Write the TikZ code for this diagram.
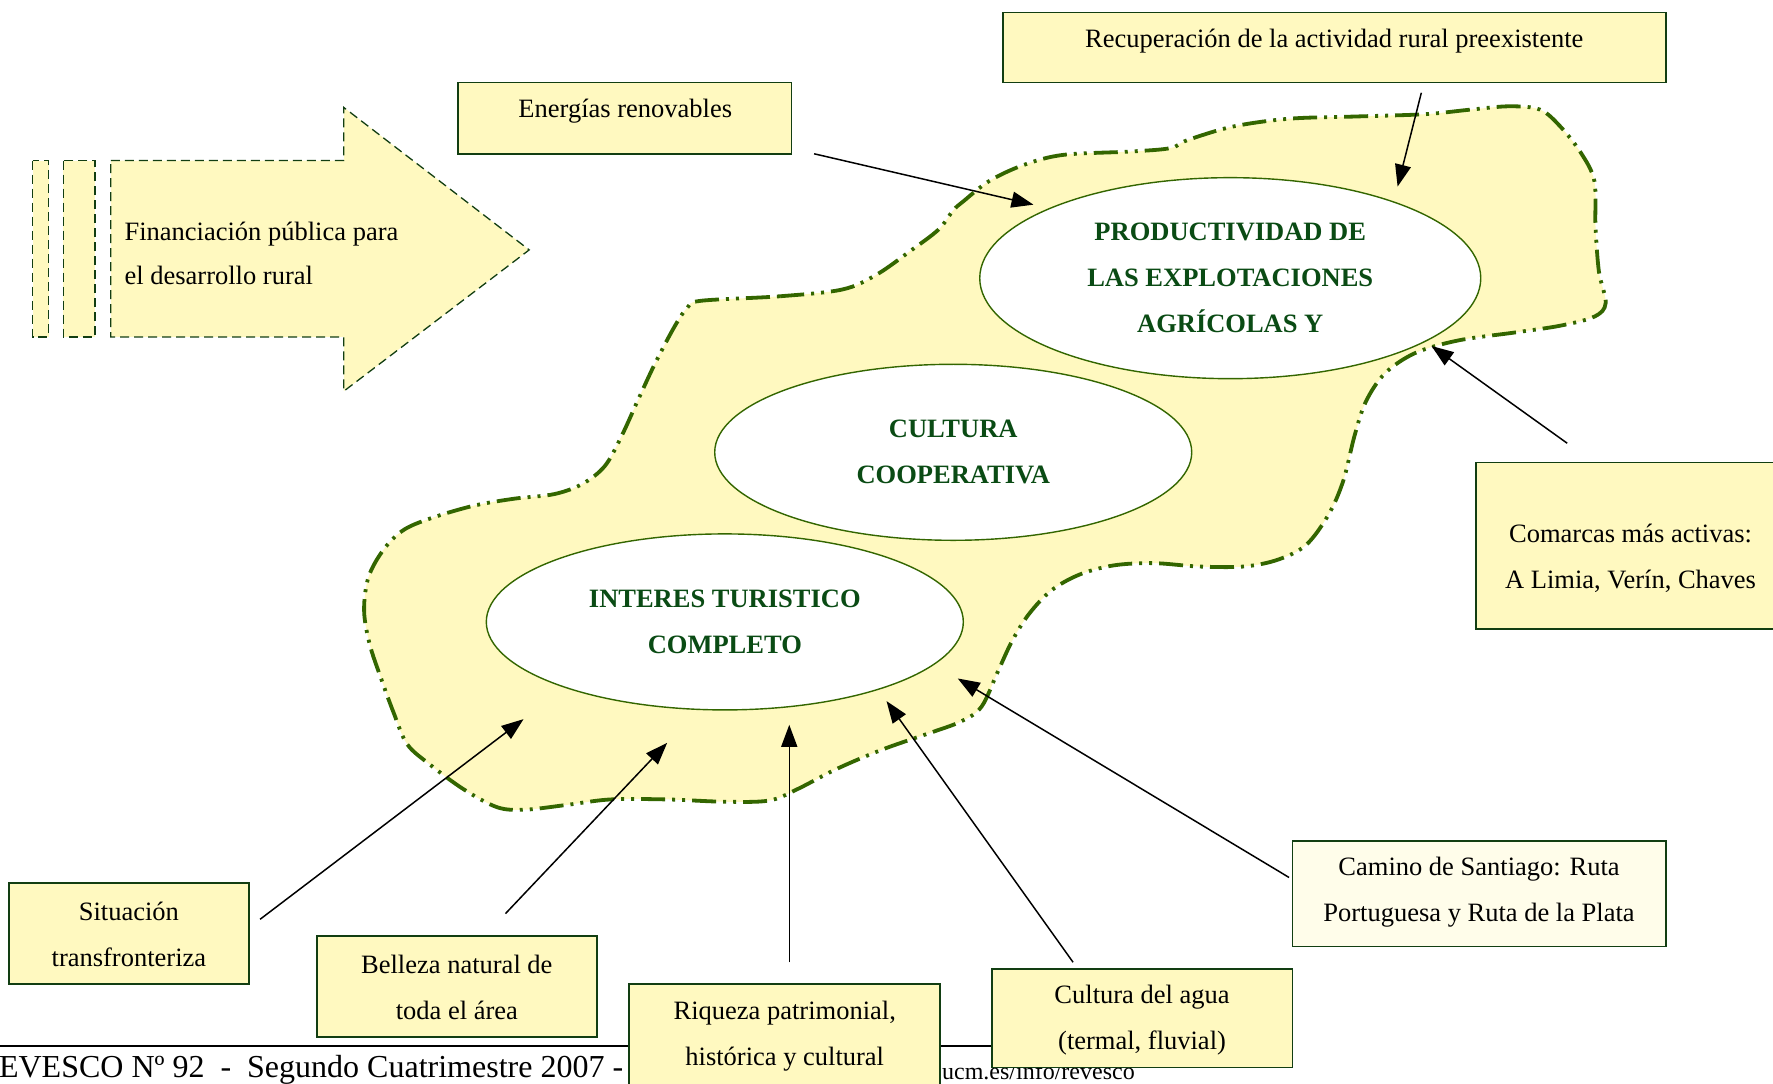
\documentclass[tikz,border=0pt]{standalone}
\usepackage{fontspec}
\setmainfont{Liberation Serif}
\usetikzlibrary{arrows.meta,shapes.geometric,fit}
\definecolor{fillY}{RGB}{255,249,192}
\definecolor{fillL}{RGB}{255,253,234}
\definecolor{boxG}{RGB}{18,62,18}
\definecolor{blobG}{RGB}{51,102,0}
\definecolor{txtG}{RGB}{10,75,20}
\begin{document}
\begin{tikzpicture}[x=1.1307pt,y=-1.1307pt,
  font=\fontsize{26.5}{46}\selectfont,
  infobox/.style={draw=boxG, line width=1.8pt, fill=fillY, inner sep=0pt},
  infotext/.style={align=center, inner sep=0pt},
  ell/.style={ellipse, draw=blobG, line width=1.4pt, fill=white, inner sep=0pt,
              align=center, text=txtG, font=\fontsize{26.5}{46}\selectfont\bfseries},
  blob/.style={draw=blobG, fill=fillY, line width=3.8pt,
               dash pattern=on 24pt off 7pt on 3pt off 7pt on 3pt off 7pt},
  shapedash/.style={draw=boxG, fill=fillY, line width=1.3pt, dash pattern=on 9pt off 5pt},
  conn/.style={draw=black, line width=1.5pt, -{Triangle[length=22pt,width=16pt]}}]
\useasboundingbox (0,0) rectangle (1568,958);

% footer
\draw[line width=2.5pt] (0,925) -- (1000,925);
\node[anchor=base west, inner sep=0pt, font=\fontsize{32}{36}\selectfont] (foot) at (-1,953)
  {EVESCO Nº 92~~-~~Segundo Cuatrimestre 2007 -};
\node[anchor=base west, inner sep=0pt, font=\fontsize{24}{28}\selectfont] (url) at (833,955)
  {ucm.es/info/revesco};

% big arrow
\draw[shapedash] (29,142) rectangle (43,298);
\draw[shapedash] (56,142) rectangle (84,298);
\draw[shapedash] (98,142) -- (304,142) -- (304,95) -- (468,221) -- (304,346) -- (304,298) -- (98,298) -- cycle;
\node[anchor=west, align=left, inner sep=0pt, font=\fontsize{26.5}{44}\selectfont] (fin) at (110,224)
  {Financiación pública para\\el desarrollo rural};

% blob
\draw[blob] plot[smooth cycle, tension=0.55] coordinates {
(620,266) (690,262) (745,256) (775,243) (805,222) (830,203) (843,186) (852,178) (875,160)
(905,146) (940,137) (1000,134) (1035,131) (1050,124) (1090,112) (1140,105) (1200,103)
(1260,101) (1300,97) (1335,94) (1362,97) (1380,112) (1398,135) (1410,160) (1411,200)
(1414,240) (1420,268) (1410,280) (1380,288) (1340,294) (1290,301) (1252,312) (1225,330)
(1208,355) (1198,385) (1188,425) (1175,455) (1155,482) (1130,495) (1100,501) (1060,501)
(1020,498) (985,500) (955,508) (930,522) (910,543) (895,567) (882,595) (868,625) (850,638)
(820,649) (780,663) (740,680) (705,698) (680,708) (640,709) (590,707) (540,707) (500,712)
(465,716) (440,714) (410,698) (380,676) (360,658) (348,630) (337,600) (327,570) (322,540)
(326,510) (340,485) (358,468) (385,457) (420,447) (455,441) (490,437) (515,428) (535,412)
(550,385) (565,352) (580,320) (597,288) (608,272)};

% ellipses
\node[ell, minimum width=501pt, minimum height=201pt] (prod) at (1088,246)
  {PRODUCTIVIDAD DE\\LAS EXPLOTACIONES\\AGRÍCOLAS Y};
\node[ell, minimum width=477pt, minimum height=176pt] (coop) at (843,400)
  {CULTURA\\COOPERATIVA};
\node[ell, minimum width=477pt, minimum height=176pt] (inter) at (641,550)
  {INTERES TURISTICO\\COMPLETO};

% boxes
\node[infobox, fit={(887,11) (1473,73)}] (recup) {};
\node[infotext] (recupT) at (1180,36) {Recuperación de la actividad rural preexistente};
\node[infobox, fit={(405,73) (700,136)}] (ener) {};
\node[infotext] (enerT) at (553,98) {Energías renovables};
\node[infobox, fit={(1305,409) (1580,556)}] (comar) {};
\node[infotext] (comarT) at (1442,494) {Comarcas más activas:\\A Limia, Verín, Chaves};
\node[infobox, fill=fillL, fit={(1143,744) (1473,837)}] (camino) {};
\node[infotext] (caminoT) at (1308,789) {Camino de Santiago: Ruta\\Portuguesa y Ruta de la Plata};
\node[infobox, fit={(8,781) (220,870)}] (sit) {};
\node[infotext] (sitT) at (114,826) {Situación\\transfronteriza};
\node[infobox, fit={(280,828) (528,917)}] (bel) {};
\node[infotext] (belT) at (404,873) {Belleza natural de\\toda el área};
\node[infobox, fit={(556,870) (831,985)}] (riq) {};
\node[infotext] (riqT) at (694,916) {Riqueza patrimonial,\\histórica y cultural};
\node[infobox, fit={(877,857) (1143,944)}] (agua) {};
\node[infotext] (aguaT) at (1010,902) {Cultura del agua\\(termal, fluvial)};

% connector end points
\coordinate (a1s) at (720,136);  \coordinate (a1e) at (914,181);
\coordinate (a2s) at (1257,82);  \coordinate (a2e) at (1236,165);
\coordinate (a3s) at (1386,392); \coordinate (a3e) at (1266,306);
\coordinate (a4s) at (1140,776); \coordinate (a4e) at (847,600);
\coordinate (a5s) at (949,851);  \coordinate (a5e) at (784,620);
\coordinate (a6s) at (698,851);  \coordinate (a6e) at (698,641);
\coordinate (a7s) at (447,808);  \coordinate (a7e) at (590,657);
\coordinate (a8s) at (230,813);  \coordinate (a8e) at (463,636);

\draw[conn] (a1s) -- (a1e);
\draw[conn] (a2s) -- (a2e);
\draw[conn] (a3s) -- (a3e);
\draw[conn] (a4s) -- (a4e);
\draw[conn] (a5s) -- (a5e);
\draw[conn] (a6s) -- (a6e);
\draw[conn] (a7s) -- (a7e);
\draw[conn] (a8s) -- (a8e);
\end{tikzpicture}
\end{document}
